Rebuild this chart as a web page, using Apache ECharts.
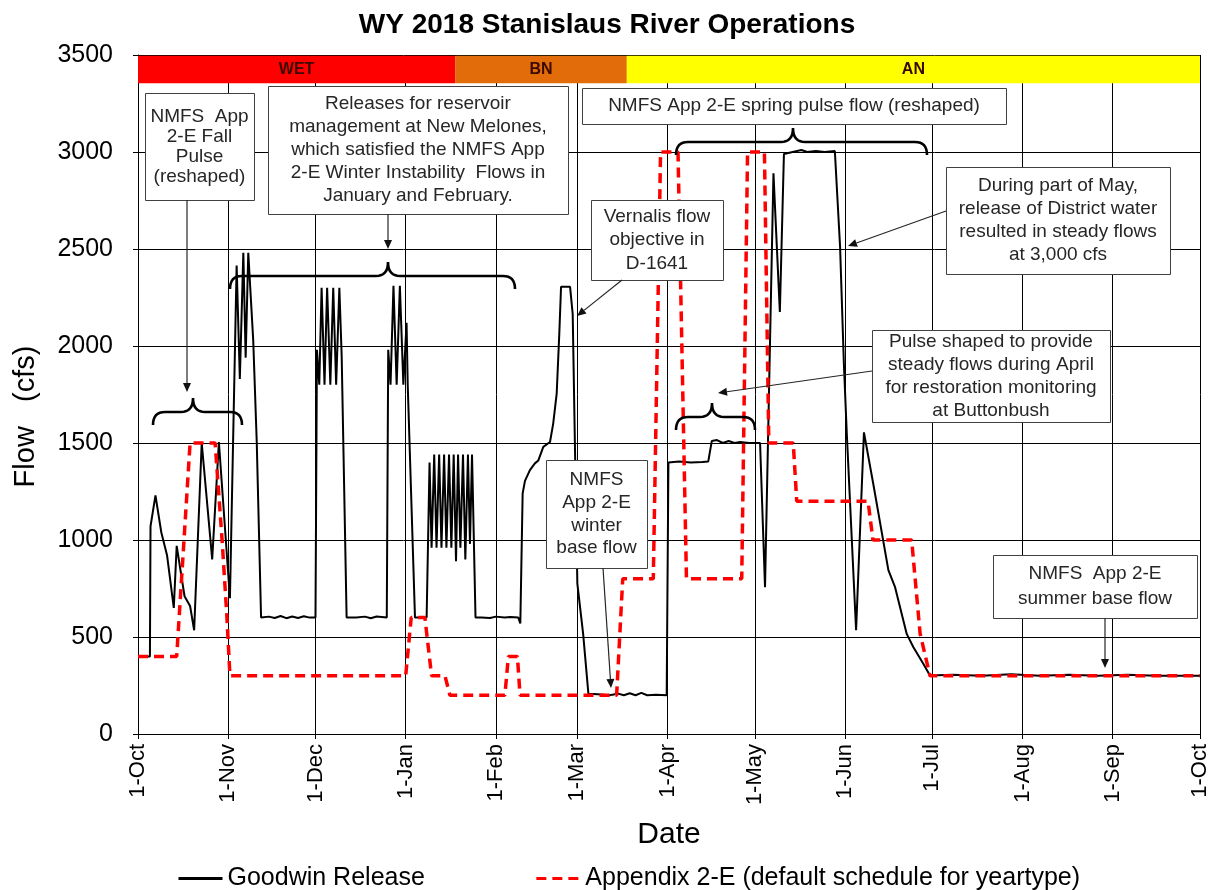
<!DOCTYPE html>
<html>
<head>
<meta charset="utf-8">
<script src="https://cdn.jsdelivr.net/npm/echarts@6/dist/echarts.min.js"></script>
<style>html,body{margin:0;padding:0;background:#fff}#c{width:1214px;height:890px}</style>
</head>
<body>
<div id="c"></div>
<script>
// ---- data (x = days since 1-Oct-2017) ----
const monthStartDays = [0,31,61,92,123,151,182,212,243,273,304,335,365];
const monthLabels = ['1-Oct','1-Nov','1-Dec','1-Jan','1-Feb','1-Mar','1-Apr','1-May','1-Jun','1-Jul','1-Aug','1-Sep','1-Oct'];
const yearTypeNames = ['WET','BN','AN'];
const yearTypeStart = [0,109,168];
const yearTypeEnd = [109,168,365];
const yearTypeColors = ['#ff0000','#e36c0a','#ffff00'];

const goodwinRelease = [
 [0,400],[4.1,400],[4.3,1070],[6,1230],[8,1040],[10,920],[12.3,650],[13.3,970],[16,710],[17.9,660],[19.3,535],
 [21.9,1500],[25.5,900],[27.8,1505],[31.6,700],[33.9,2415],[35,1830],[36.2,2480],[37,1940],[37.9,2480],
 [39.6,2030],[40.8,1510],[42.3,600],[45,605],[47,598],[49,608],[51,597],[53,606],[55,598],[57,607],[59,600],[61,600],
 [61.5,1980],[62.3,1800],[63.1,2300],[64.1,1800],[65,2300],[66.1,1800],[67.1,2300],[68.1,1800],[69.2,2300],
 [70,1950],[71.7,600],[75,600],[78,605],[80,597],[82,606],[85.5,600],
 [86,1980],[86.8,1800],[87.8,2310],[88.9,1800],[90,2310],[91.2,1800],[92.3,2120],[92.7,1800],[95.2,600],[99.2,600],
 [100.2,1400],[100.9,960],[101.8,1440],[102.6,960],[103.5,1440],[104.3,960],[105.2,1440],[106,960],[106.9,1440],
 [107.7,960],[108.5,1440],[109.3,890],[110,1440],[110.8,960],[111.7,1440],[112.5,900],[113.4,1440],[114.1,980],
 [114.8,1440],[116,600],[118,600],[121,598],[123,605],[126,600],[128,603],[130.7,600],[131.4,570],
 [132.2,1240],[133,1305],[134.7,1360],[136.4,1395],[137.6,1410],[139.3,1480],[141.6,1505],[142.7,1600],
 [143.9,1755],[144.8,2065],[145.4,2305],[148.5,2305],[149.4,2165],[150.2,1460],[151,775],[153,515],[154.8,207],
 [158,205],[162,200],[165,208],[167,200],[169,210],[171,200],[173,212],[175,200],[178,202],[181.7,200],
 [182.3,1400],[186,1405],[190,1400],[194,1402],[196,1405],[197.2,1510],[199,1515],[201,1500],[203,1510],
 [205,1500],[207,1505],[210,1500],[213.8,1500],[215.5,757],[218.4,2890],[220.6,2175],[222,2990],[225,3000],
 [228,3010],[230,3000],[233,3005],[236,3000],[239.5,3005],[241.3,2510],[242.6,1910],[243.6,1550],[246.8,535],
 [249.5,1555],[252.7,1290],[257.9,845],[260.2,757],[264.2,516],[266.5,447],[269.9,362],[272.2,302],
 [280,305],[290,300],[300,308],[310,300],[320,305],[330,300],[340,306],[350,300],[365,300]
];

const appendix2E = [
 [0,400],[13.3,400],[17.9,1500],[26.5,1500],[28.9,1000],[30.5,620],[31.6,300],[92,300],[93.9,600],[98.6,600],
 [100.9,300],[105.5,300],[107.2,200],[126.1,200],[127.3,400],[130.4,400],[131.3,200],[164.5,200],[166.6,800],
 [177.1,800],[179.6,3000],[185.6,3000],[188.5,800],[207.5,800],[209.5,3000],[215.3,3000],[216.8,1500],
 [225.2,1500],[226.4,1200],[250.9,1200],[252.6,1000],[265.9,1000],[267.4,750],[268.8,518],[272.2,300],[365,300]
];

// ---- annotations (layout, pixels) ----
const FONT = "'Liberation Sans', Arial, sans-serif";
const boxes = [
 {x:145,y:93,w:109,h:107,lh:20,text:'NMFS  App\n2-E Fall\nPulse\n(reshaped)'},
 {x:268,y:86,w:300,h:128,lh:23,text:'Releases for reservoir\nmanagement at New Melones,\nwhich satisfied the NMFS App\n2-E Winter Instability  Flows in\nJanuary and February.'},
 {x:591,y:200,w:132,h:80,lh:23.5,text:'Vernalis flow\nobjective in\nD-1641'},
 {x:582,y:88,w:424,h:36,lh:23,text:'NMFS App 2-E spring pulse flow (reshaped)'},
 {x:946,y:167,w:224,h:107,lh:23,text:'During part of May,\nrelease of District water\nresulted in steady flows\nat 3,000 cfs'},
 {x:872,y:330,w:238,h:92,lh:23,text:'Pulse shaped to provide\nsteady flows during April\nfor restoration monitoring\nat Buttonbush'},
 {x:546,y:460,w:101,h:108,lh:22.7,text:'NMFS\nApp 2-E\nwinter\nbase flow'},
 {x:993,y:555,w:204,h:63,lh:25,text:'NMFS  App 2-E\nsummer base flow'}
];
const arrows = [
 [187,200,187,392],[388,214,388,249],[622,280,577,316],[946,211,848,246],
 [872,371,718,393],[603,568,611,688],[1105,618,1105,668]
];
const braces = [
 {x1:153,x2:242,y:412,tip:193},
 {x1:230,x2:515,y:276,tip:388},
 {x1:676,x2:927,y:142,tip:793},
 {x1:676,x2:755,y:417,tip:712}
];

function quad(p0,p1,p2,n){const out=[];for(let i=1;i<=n;i++){const t=i/n,a=(1-t)*(1-t),b=2*(1-t)*t,c=t*t;out.push([a*p0[0]+b*p1[0]+c*p2[0],a*p0[1]+b*p1[1]+c*p2[1]]);}return out;}
function bracePoints(b){
  const r=12,h=13,t=14,y=b.y,m=b.tip;
  let pts=[[b.x1,y+h]];
  pts=pts.concat(quad([b.x1,y+h],[b.x1,y],[b.x1+r,y],8));
  pts.push([m-r,y]);
  pts=pts.concat(quad([m-r,y],[m,y],[m,y-t],8));
  pts=pts.concat(quad([m,y-t],[m,y],[m+r,y],8));
  pts.push([b.x2-r,y]);
  pts=pts.concat(quad([b.x2-r,y],[b.x2,y],[b.x2,y+h],8));
  return pts;
}
const graphics=[];
boxes.forEach(b=>{
  graphics.push({type:'rect',z:100,shape:{x:b.x+0.5,y:b.y+0.5,width:b.w,height:b.h},style:{fill:'#fff',stroke:'#404040',lineWidth:1}});
  graphics.push({type:'text',z:101,style:{text:b.text,x:b.x+b.w/2,y:b.y+b.h/2,align:'center',verticalAlign:'middle',textAlign:'center',textVerticalAlign:'middle',font:'19px '+FONT,fill:'#262626',lineHeight:b.lh}});
});
arrows.forEach(a=>{
  const [x1,y1,x2,y2]=a;const ang=Math.atan2(y2-y1,x2-x1);const L=9,W=4;
  const bx=x2-L*Math.cos(ang),by=y2-L*Math.sin(ang);
  graphics.push({type:'line',z:100,shape:{x1:x1,y1:y1,x2:bx,y2:by},style:{stroke:'#262626',lineWidth:1.2}});
  graphics.push({type:'polygon',z:100,shape:{points:[[x2,y2],[bx-W*Math.sin(ang),by+W*Math.cos(ang)],[bx+W*Math.sin(ang),by-W*Math.cos(ang)]]},style:{fill:'#111'}});
});
braces.forEach(b=>{
  graphics.push({type:'polyline',z:100,shape:{points:bracePoints(b)},style:{stroke:'#000',lineWidth:2.6,fill:null}});
});

const chart = echarts.init(document.getElementById('c'), null, {renderer:'canvas'});
chart.setOption({
  backgroundColor:'#fff',
  animation:false,
  title:{text:'WY 2018 Stanislaus River Operations',left:'center',top:6,
    textStyle:{fontFamily:FONT,fontWeight:'bold',fontSize:28,color:'#000'}},
  grid:{left:138,right:14,top:55,bottom:156,containLabel:false,outerBoundsMode:'none'},
  legend:{left:172,top:861,itemWidth:44,itemHeight:14,itemGap:110,
    itemStyle:{opacity:0},lineStyle:{width:3},
    textStyle:{fontFamily:FONT,fontSize:25,color:'#000'},
    data:['Goodwin Release','Appendix 2-E (default schedule for yeartype)']},
  xAxis:{type:'value',min:0,max:365,
    name:'Date',nameLocation:'middle',nameGap:86,
    nameTextStyle:{fontFamily:FONT,fontSize:30,color:'#000'},
    axisLine:{show:true,onZero:false,lineStyle:{color:'#000',width:1}},
    axisTick:{show:true,length:5,customValues:monthStartDays,lineStyle:{color:'#000'}},
    axisLabel:{customValues:monthStartDays,rotate:90,margin:10,fontFamily:FONT,fontSize:22,color:'#000',
      formatter:function(v){const i=monthStartDays.indexOf(Math.round(v));return i>=0?monthLabels[i]:'';}},
    splitLine:{show:true,lineStyle:{color:'#000',width:1}}},
  yAxis:{type:'value',min:0,max:3500,interval:500,
    name:'Flow   (cfs)',nameLocation:'middle',nameGap:98,
    nameTextStyle:{fontFamily:FONT,fontSize:29,color:'#000',padding:[0,44,0,0]},
    axisLine:{show:true,lineStyle:{color:'#000',width:1}},
    axisTick:{show:true,length:5,lineStyle:{color:'#000'}},
    axisLabel:{margin:25,fontFamily:FONT,fontSize:25,color:'#000',formatter:function(v){return String(v);}},
    splitLine:{show:true,lineStyle:{color:'#000',width:1}}},
  series:[
    {name:'Goodwin Release',type:'line',data:goodwinRelease,symbol:'none',showSymbol:false,
     lineStyle:{color:'#000',width:2},itemStyle:{color:'#000'},z:3,
     markArea:{silent:true,data:yearTypeNames.map((n,i)=>[
       {name:n,xAxis:yearTypeStart[i],yAxis:3355,itemStyle:{color:yearTypeColors[i],opacity:1},
        label:{show:true,position:'inside',color:'#3a0a00',fontWeight:'bold',fontSize:16,fontFamily:"'Liberation Sans Narrow','Liberation Sans',sans-serif"}},
       {xAxis:yearTypeEnd[i],yAxis:3496}])}},
    {name:'Appendix 2-E (default schedule for yeartype)',type:'line',data:appendix2E,symbol:'none',showSymbol:false,
     lineStyle:{color:'#ff0000',width:3.5,type:[10,6]},itemStyle:{color:'#ff0000'},z:4}
  ],
  graphic:graphics
});
</script>
</body>
</html>
